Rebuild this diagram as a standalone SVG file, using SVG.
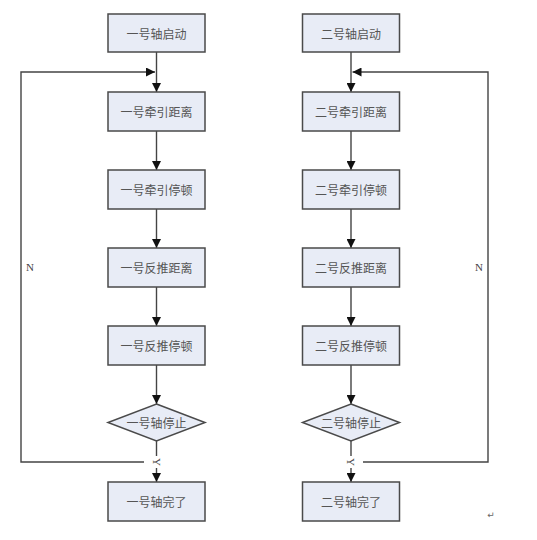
<svg xmlns="http://www.w3.org/2000/svg" width="537" height="540" viewBox="0 0 537 540">
<style>
.box{fill:#e8ecf6;stroke:#4a4a4a;stroke-width:1.5}
.t{font-family:"Noto Sans CJK SC","Noto Sans CJK JP",sans-serif;font-size:12px;fill:#555;text-anchor:middle;dominant-baseline:central}
.l{font-family:"Liberation Serif",serif;font-size:11px;fill:#444;text-anchor:middle;dominant-baseline:central}
.c{fill:none;stroke:#444;stroke-width:1.4}
</style>
<defs>
<marker id="ah" viewBox="0 0 10 10" refX="10" refY="5" markerWidth="7" markerHeight="7" markerUnits="userSpaceOnUse" orient="auto">
<path d="M0,0 L10,5 L0,10 z" fill="#111"/>
</marker>
<marker id="ah2" viewBox="0 0 10 10" refX="10" refY="5" markerWidth="9" markerHeight="9" orient="auto" markerUnits="userSpaceOnUse">
<path d="M0,0 L10,5 L0,10 z" fill="#111"/>
</marker>
</defs>
<rect width="537" height="540" fill="#fff"/>
<g id="connectors">
<path class="c" d="M156.5,52 V92" marker-end="url(#ah2)"/>
<path class="c" d="M156.5,131 V170" marker-end="url(#ah2)"/>
<path class="c" d="M156.5,209 V248" marker-end="url(#ah2)"/>
<path class="c" d="M156.5,287 V326" marker-end="url(#ah2)"/>
<path class="c" d="M156.5,365 V404" marker-end="url(#ah2)"/>
<path class="c" d="M156.5,441 V456"/>
<path class="c" d="M156.5,468 V482" marker-end="url(#ah2)"/>
<path class="c" d="M144,462 H21 V72 H155" marker-end="url(#ah2)"/>
<text class="l" transform="translate(156.5,462) rotate(90)" font-size="8">Y</text>
<text class="l" x="30" y="267">N</text>
<path class="c" d="M351,52 V92" marker-end="url(#ah2)"/>
<path class="c" d="M351,131 V170" marker-end="url(#ah2)"/>
<path class="c" d="M351,209 V248" marker-end="url(#ah2)"/>
<path class="c" d="M351,287 V326" marker-end="url(#ah2)"/>
<path class="c" d="M351,365 V404" marker-end="url(#ah2)"/>
<path class="c" d="M351,441 V456"/>
<path class="c" d="M351,468 V482" marker-end="url(#ah2)"/>
<path class="c" d="M363,462 H488 V72 H352.5" marker-end="url(#ah2)"/>
<text class="l" transform="translate(351,462) rotate(90)" font-size="8">Y</text>
<text class="l" x="479" y="267">N</text>
</g>
<g id="n1a"><rect class="box" x="108" y="14" width="97" height="38"/><text class="t" x="156.5" y="33">一号轴启动</text></g>
<g id="n2a"><rect class="box" x="108" y="92" width="97" height="39"/><text class="t" x="156.5" y="111.5">一号牵引距离</text></g>
<g id="n3a"><rect class="box" x="108" y="170" width="97" height="39"/><text class="t" x="156.5" y="189.5">一号牵引停顿</text></g>
<g id="n4a"><rect class="box" x="108" y="248" width="97" height="39"/><text class="t" x="156.5" y="267.5">一号反推距离</text></g>
<g id="n5a"><rect class="box" x="108" y="326" width="97" height="39"/><text class="t" x="156.5" y="345.5">一号反推停顿</text></g>
<g id="n6a"><polygon class="box" points="156.5,404 205,422.5 156.5,441 108,422.5"/><text class="t" x="156.5" y="422.5">一号轴停止</text></g>
<g id="n7a"><rect class="box" x="108" y="482" width="97" height="39"/><text class="t" x="156.5" y="501.5">一号轴完了</text></g>
<g id="n1b"><rect class="box" x="302.5" y="14" width="97" height="38"/><text class="t" x="351" y="33">二号轴启动</text></g>
<g id="n2b"><rect class="box" x="302.5" y="92" width="97" height="39"/><text class="t" x="351" y="111.5">二号牵引距离</text></g>
<g id="n3b"><rect class="box" x="302.5" y="170" width="97" height="39"/><text class="t" x="351" y="189.5">二号牵引停顿</text></g>
<g id="n4b"><rect class="box" x="302.5" y="248" width="97" height="39"/><text class="t" x="351" y="267.5">二号反推距离</text></g>
<g id="n5b"><rect class="box" x="302.5" y="326" width="97" height="39"/><text class="t" x="351" y="345.5">二号反推停顿</text></g>
<g id="n6b"><polygon class="box" points="351,404 399.5,422.5 351,441 302.5,422.5"/><text class="t" x="351" y="422.5">二号轴停止</text></g>
<g id="n7b"><rect class="box" x="302.5" y="482" width="97" height="39"/><text class="t" x="351" y="501.5">二号轴完了</text></g>
<text x="491" y="518" font-family="DejaVu Sans,sans-serif" font-size="9" fill="#666" text-anchor="middle">↵</text>
</svg>
